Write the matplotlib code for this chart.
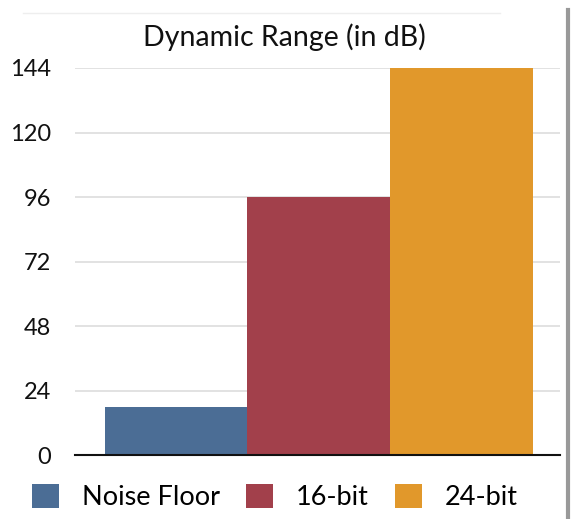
import matplotlib
matplotlib.use("Agg")
import matplotlib.pyplot as plt
from matplotlib.patches import Patch
from matplotlib.lines import Line2D

categories = ["Noise Floor", "16-bit", "24-bit"]
values = [18, 96, 144]
colors = ["#4b6d95", "#a2404b", "#e1982b"]
yticks = [0, 24, 48, 72, 96, 120, 144]
title = "Dynamic Range (in dB)"

plt.rcParams['font.family'] = ['Lato', 'DejaVu Sans']

fig = plt.figure(figsize=(5.75, 5.19), dpi=100)
ax = fig.add_axes([0.130, 0.123, 0.844, 0.746])

x = list(range(len(categories)))
ax.bar(x, values, width=1.0, color=colors, edgecolor='none', zorder=2)
ax.set_xlim(-0.71, 2.69)
ax.set_ylim(0, 144)
ax.set_yticks(yticks)
ax.set_yticklabels([str(t) for t in yticks], fontsize=17, color='#111111')
ax.set_xticks([])
ax.tick_params(axis='y', length=0, pad=17)
ax.grid(axis='y', color='#dddddd', linewidth=1.2, zorder=0)
for s in ['top', 'right', 'left']:
    ax.spines[s].set_visible(False)
ax.spines['bottom'].set_color('#111111')
ax.spines['bottom'].set_linewidth(1.5)
ax.spines['bottom'].set_zorder(3)

fig.text(0.495, 0.928, title, ha='center', va='center', fontsize=20.5, color='#111111')

handles = [Patch(facecolor=c, edgecolor='none') for c in colors]
fig.legend(handles, categories, loc='center', bbox_to_anchor=(0.478, 0.042), ncol=3,
           frameon=False, fontsize=19.5, handlelength=1.0, handleheight=1.0,
           columnspacing=0.95, handletextpad=0.85)

# right border line
fig.add_artist(Line2D([0.988, 0.988], [0.0, 0.98], transform=fig.transFigure,
                      color='#999999', linewidth=3))
fig.add_artist(Line2D([0.04, 0.87], [0.975, 0.975], transform=fig.transFigure,
                      color='#eeeeee', linewidth=1))

fig.savefig("out.png", dpi=100)
